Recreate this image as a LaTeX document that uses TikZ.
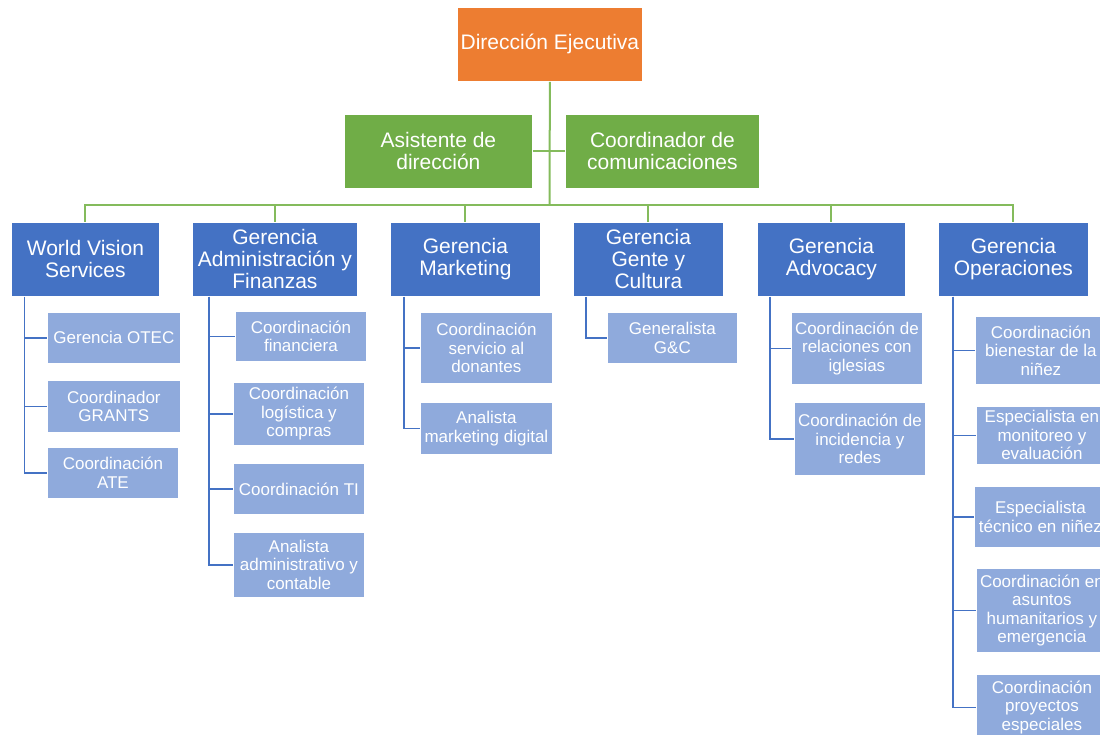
\documentclass[tikz,border=0pt]{standalone}
\usepackage{fontspec}
\setmainfont{Liberation Sans}
\definecolor{orng}{HTML}{ED7D31}
\definecolor{grn}{HTML}{70AD47}
\definecolor{gln}{HTML}{84BB5C}
\definecolor{dblue}{HTML}{4472C4}
\definecolor{lblue}{HTML}{8FAADC}
\begin{document}
\begin{tikzpicture}[x=1pt,y=-1pt,
  box/.style={draw=white, line width=0.8pt, text=white, align=center, inner sep=0pt, anchor=north west},
  topbox/.style={box, fill=orng, font=\fontsize{21}{22}\selectfont},
  grnbox/.style={box, fill=grn, font=\fontsize{21}{22}\selectfont},
  gerbox/.style={box, fill=dblue, font=\fontsize{21}{22}\selectfont},
  subbox/.style={box, fill=lblue, font=\fontsize{17}{18.5}\selectfont},
  gline/.style={draw=gln, line width=2pt},
  bline/.style={draw=dblue, line width=1.8pt}]
\useasboundingbox (0,0) rectangle (1100,734);
\clip (0,0) rectangle (1100,734);
% top levels
\node[topbox, minimum width=185pt, minimum height=74pt] (dir) at (457,7) {Dirección Ejecutiva};
\node[grnbox, minimum width=188pt, minimum height=74pt] (asis) at (344,114) {Asistente de\\dirección};
\node[grnbox, minimum width=194pt, minimum height=74pt] (comu) at (565,114) {Coordinador de\\comunicaciones};
% gerencias
\node[gerbox, minimum width=148pt, minimum height=74pt] (wvs) at (11,222) {World Vision\\Services};
\node[gerbox, minimum width=165pt, minimum height=74pt] (adm) at (192,222) {Gerencia\\Administración y\\Finanzas};
\node[gerbox, minimum width=150pt, minimum height=74pt] (mkt) at (390,222) {Gerencia\\Marketing};
\node[gerbox, minimum width=150pt, minimum height=74pt] (gyc) at (573,222) {Gerencia\\Gente y\\Cultura};
\node[gerbox, minimum width=148pt, minimum height=74pt] (adv) at (757,222) {Gerencia\\Advocacy};
\node[gerbox, minimum width=150pt, minimum height=74pt] (ops) at (938,222) {Gerencia\\Operaciones};
% sub boxes
\node[subbox, minimum width=133pt, minimum height=51pt] (otec) at (47,312) {Gerencia OTEC};
\node[subbox, minimum width=133pt, minimum height=52pt] (grants) at (47,380) {Coordinador\\GRANTS};
\node[subbox, minimum width=131pt, minimum height=51pt] (ate) at (47,447) {Coordinación\\ATE};
\node[subbox, minimum width=131pt, minimum height=50pt] (fin) at (235,311) {Coordinación\\financiera};
\node[subbox, minimum width=131pt, minimum height=63pt] (log) at (233,382) {Coordinación\\logística y\\compras};
\node[subbox, minimum width=131pt, minimum height=51pt] (ti) at (233,463) {Coordinación TI};
\node[subbox, minimum width=131pt, minimum height=65pt] (ana) at (233,532) {Analista\\administrativo y\\contable};
\node[subbox, minimum width=132pt, minimum height=71pt] (don) at (420,312) {Coordinación\\servicio al\\donantes};
\node[subbox, minimum width=132pt, minimum height=52pt] (dig) at (420,402) {Analista\\marketing digital};
\node[subbox, minimum width=130pt, minimum height=51pt] (gen) at (607,312) {Generalista\\G\&C};
\node[subbox, minimum width=131pt, minimum height=72pt] (igl) at (791,312) {Coordinación de\\relaciones con\\iglesias};
\node[subbox, minimum width=131pt, minimum height=73pt] (red) at (794,402) {Coordinación de\\incidencia y\\redes};
\node[subbox, minimum width=131pt, minimum height=68pt] (bien) at (975,316) {Coordinación\\bienestar de la\\niñez};
\node[subbox, minimum width=131pt, minimum height=58pt] (mon) at (976,406) {Especialista en\\monitoreo y\\evaluación};
\node[subbox, minimum width=132pt, minimum height=61pt] (tec) at (974,486) {Especialista\\técnico en niñez};
\node[subbox, minimum width=131pt, minimum height=84pt] (hum) at (976,568) {Coordinación en\\asuntos\\humanitarios y\\emergencia};
\node[subbox, minimum width=131pt, minimum height=66pt] (pro) at (976,674) {Coordinación\\proyectos\\especiales};
% green connectors
\coordinate (hub) at (549.5,205);
\draw[gline] (dir.south) -- (hub);
\draw[gline] (asis.east) -- (comu.west);
\foreach \g in {wvs,adm,mkt,gyc,adv,ops} {\draw[gline] (hub) -| (\g.north);}
% blue connectors
\foreach \c in {otec,grants,ate} {\draw[bline] ([xshift=13.5pt]wvs.south west) |- (\c.west);}
\foreach \c in {fin,log,ti,ana} {\draw[bline] ([xshift=17pt]adm.south west) |- (\c.west);}
\foreach \c in {don,dig} {\draw[bline] ([xshift=14pt]mkt.south west) |- (\c.west);}
\draw[bline] ([xshift=13pt]gyc.south west) |- (gen.west);
\foreach \c in {igl,red} {\draw[bline] ([xshift=13pt]adv.south west) |- (\c.west);}
\foreach \c in {bien,mon,tec,hum,pro} {\draw[bline] ([xshift=15pt]ops.south west) |- (\c.west);}
\end{tikzpicture}
\end{document}
